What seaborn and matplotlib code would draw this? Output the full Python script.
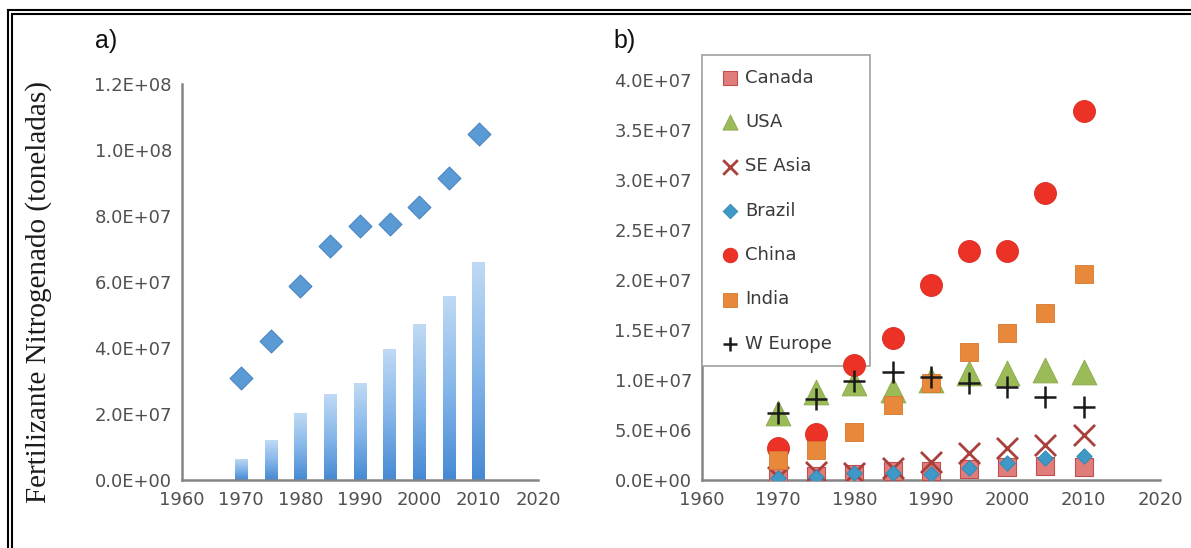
import numpy as np
import matplotlib
matplotlib.use("Agg")
import matplotlib.pyplot as plt
from matplotlib.colors import LinearSegmentedColormap
from matplotlib.ticker import FuncFormatter, FixedLocator
from matplotlib.lines import Line2D
import seaborn as sns

# ---- data -------------------------------------------------------------
years = [1970, 1975, 1980, 1985, 1990, 1995, 2000, 2005, 2010]
x_ticks = [1960, 1970, 1980, 1990, 2000, 2010, 2020]

# a) world nitrogen fertilizer
world_total = [3.08e7, 4.22e7, 5.88e7, 7.09e7, 7.71e7, 7.76e7, 8.26e7, 9.14e7, 1.05e8]
world_bars = [6.4e6, 1.21e7, 2.02e7, 2.60e7, 2.93e7, 3.97e7, 4.72e7, 5.59e7, 6.62e7]
a_yticks = [0, 2e7, 4e7, 6e7, 8e7, 1e8, 1.2e8]

# b) by region
canada = [2.0e5, 4.0e5, 6.0e5, 9.0e5, 9.0e5, 1.1e6, 1.3e6, 1.4e6, 1.3e6]
usa = [6.7e6, 8.8e6, 9.7e6, 9.0e6, 1.0e7, 1.07e7, 1.07e7, 1.10e7, 1.08e7]
se_asia = [3.0e5, 8.0e5, 7.0e5, 1.2e6, 1.8e6, 2.7e6, 3.2e6, 3.5e6, 4.5e6]
brazil = [2.0e5, 3.0e5, 7.0e5, 7.0e5, 6.0e5, 1.2e6, 1.7e6, 2.2e6, 2.4e6]
china = [3.2e6, 4.6e6, 1.15e7, 1.42e7, 1.95e7, 2.29e7, 2.29e7, 2.87e7, 3.69e7]
india = [2.0e6, 3.0e6, 4.8e6, 7.5e6, 9.7e6, 1.28e7, 1.47e7, 1.67e7, 2.06e7]
w_europe = [6.7e6, 8.1e6, 9.9e6, 1.08e7, 1.03e7, 9.7e6, 9.3e6, 8.3e6, 7.3e6]
b_yticks = [0, 5e6, 1e7, 1.5e7, 2e7, 2.5e7, 3e7, 3.5e7, 4e7]

regions = ["Canada", "USA", "SE Asia", "Brazil", "China", "India", "W Europe"]
region_values = [canada, usa, se_asia, brazil, china, india, w_europe]

# ---- style ------------------------------------------------------------
sns.set_theme(style="white")
plt.rcParams["font.family"] = ["DejaVu Sans"]

AXIS_GREY = "#858585"
LABEL_GREY = "#505050"

W, H = 1191, 548
fig = plt.figure(figsize=(W / 100, H / 100), dpi=100)
fig.patch.set_facecolor("white")


def px_axes(left, top, right, bottom):
    return fig.add_axes([left / W, 1 - bottom / H, (right - left) / W, (bottom - top) / H])


sci = FuncFormatter(lambda v, pos: f"{v:.1E}")


def style_axes(ax, yticks):
    for side in ("top", "right"):
        ax.spines[side].set_visible(False)
    for side in ("left", "bottom"):
        ax.spines[side].set_color(AXIS_GREY)
        ax.spines[side].set_linewidth(1.8)
    ax.set_xlim(1960, 2020)
    ax.set_ylim(yticks[0], yticks[-1])
    ax.xaxis.set_major_locator(FixedLocator(x_ticks))
    ax.yaxis.set_major_locator(FixedLocator(yticks))
    ax.yaxis.set_major_formatter(sci)
    ax.tick_params(axis="both", direction="out", length=4, width=1.6,
                   color=AXIS_GREY, labelcolor=LABEL_GREY, labelsize=13, pad=3)
    ax.tick_params(axis="x", pad=4)
    ax.set_xlabel("")
    ax.set_ylabel("")
    ax.grid(False)
    ax.set_facecolor("none")


# ---- panel a ----------------------------------------------------------
ax_a = px_axes(181.7, 84, 538, 480)
sns.barplot(x=years, y=world_bars, native_scale=True, width=0.42,
            color="#6fa8e0", ax=ax_a, zorder=2)

bar_cmap = LinearSegmentedColormap.from_list("bar_fade", ["#4689d3", "#86b7ea", "#c0daf4"])
grad = np.linspace(0, 1, 256).reshape(-1, 1)
for patch in list(ax_a.patches):
    x0, w, h = patch.get_x(), patch.get_width(), patch.get_height()
    im = ax_a.imshow(grad, extent=[x0, x0 + w, 0, h], origin="lower",
                     cmap=bar_cmap, aspect="auto", zorder=2, interpolation="bilinear")
    im.set_clip_path(patch)
    patch.set_facecolor("none")
    patch.set_edgecolor("none")

sns.scatterplot(x=years, y=world_total, marker="D", s=135, color="#5b9bd5",
                edgecolor="#4a84c0", linewidth=0.8, ax=ax_a, zorder=3)
style_axes(ax_a, a_yticks)

# ---- panel b ----------------------------------------------------------
ax_b = px_axes(701.7, 80, 1160, 480)

marker_specs = {
    "Canada":   dict(marker="s", s=150, color="#e07d7a", edgecolor="#c0504d", linewidth=0.8),
    "USA":      dict(marker="^", s=320, color="#9bbb59", edgecolor="#8aa84c", linewidth=0.6),
    "SE Asia":  dict(marker="x", s=230, color="#a9403c", linewidth=2.0),
    "Brazil":   dict(marker="D", s=62, color="#3f98c6", edgecolor="#2f86b3", linewidth=0.6),
    "China":    dict(marker="o", s=250, color="#ec3226", edgecolor="#d82a20", linewidth=0.6),
    "India":    dict(marker="s", s=155, color="#e8883a", edgecolor="#d47a30", linewidth=0.6),
    "W Europe": dict(marker="+", s=230, color="#1a1a1a", linewidth=1.8),
}
legend_sizes = {"Canada": 95, "USA": 120, "SE Asia": 110, "Brazil": 55,
                "China": 110, "India": 95, "W Europe": 110}

for name, vals in zip(regions, region_values):
    sns.scatterplot(x=years, y=vals, label=name, ax=ax_b, zorder=3, **marker_specs[name])

style_axes(ax_b, b_yticks)

leg = ax_b.legend(loc="upper left",
                  bbox_to_anchor=(702 / W, 1 - 365 / H, 168 / W, 310 / H),
                  bbox_transform=fig.transFigure, mode="expand", borderaxespad=0,
                  frameon=True, fancybox=False, framealpha=1, edgecolor="#a0a0a0",
                  fontsize=13, labelspacing=1.46, borderpad=0.75,
                  handlelength=1.6, handletextpad=0.05)
leg.get_frame().set_linewidth(1.2)
for handle, name in zip(leg.legend_handles, regions):
    handle.set_sizes([legend_sizes[name]])
for t in leg.get_texts():
    t.set_color("#3a3a3a")
leg.set_zorder(2.5)

# ---- panel letters and y label -----------------------------------------
fig.text(106 / W, 1 - 41 / H, "a)", ha="center", va="center",
         family=["Liberation Sans"], fontsize=18, color="#111111")
fig.text(625 / W, 1 - 41 / H, "b)", ha="center", va="center",
         family=["Liberation Sans"], fontsize=18, color="#111111")
fig.text(39 / W, 1 - 292 / H, "Fertilizante Nitrogenado (toneladas)",
         rotation=90, ha="center", va="center",
         family=["Liberation Serif"], fontsize=21, color="#1c1c1c")

# ---- double border along the top and left edges -------------------------
def fig_line(xs, ys):
    fig.add_artist(Line2D([x / W for x in xs], [1 - y / H for y in ys],
                          transform=fig.transFigure, color="black", linewidth=1.5,
                          solid_capstyle="butt"))

fig_line([7.3, W], [10, 10])
fig_line([10.7, W], [13.5, 13.5])
fig_line([8.3, 8.3], [9.3, H])
fig_line([11.7, 11.7], [12.8, H])

fig.savefig("out.png", dpi=100, facecolor="white")
